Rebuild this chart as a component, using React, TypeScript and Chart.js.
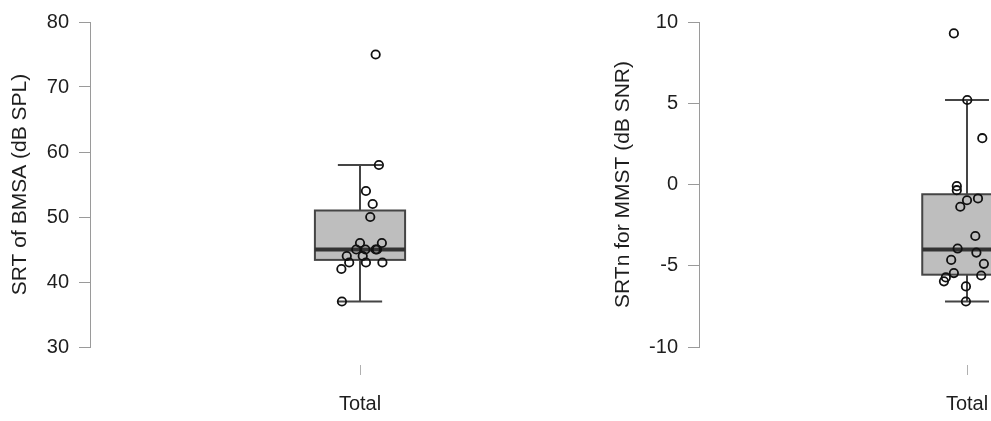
import React, { useEffect, useRef } from 'react';
import { Chart, registerables } from 'chart.js';

Chart.register(...registerables);

// ---------- data ----------
const categories = ['Total'];

// Panel 1: SRT of BMSA (dB SPL)
const bmsaTitle = 'SRT of BMSA (dB SPL)';
const bmsaValues = [75, 58, 54, 52, 50, 46, 46, 45, 45, 45, 45, 44, 44, 43, 43, 43, 42, 37];
const bmsaJitter = [0.058, 0.07, 0.022, 0.047, 0.038, 0.0, 0.081, -0.014, 0.02, 0.058, 0.063, -0.049, 0.01, -0.04, 0.022, 0.083, -0.069, -0.067];
// lower whisker, Q1, median, Q3, upper whisker
const bmsaBox = [37, 43.4, 45, 51, 58];
const bmsaTicks = [30, 40, 50, 60, 70, 80];

// Panel 2: SRTn for MMST (dB SNR)
const mmstTitle = 'SRTn for MMST (dB SNR)';
const mmstValues = [9.3, 5.2, 2.85, -0.1, -0.35, -0.97, -0.86, -1.37, -3.17, -3.94, -4.19, -4.64, -4.88, -5.45, -5.6, -5.72, -5.96, -6.27, -7.2];
const mmstJitter = [-0.049, 0.001, 0.057, -0.038, -0.038, 0.0, 0.041, -0.025, 0.031, -0.035, 0.035, -0.059, 0.063, -0.049, 0.053, -0.079, -0.086, -0.004, -0.004];
const mmstBox = [-7.2, -5.55, -4.0, -0.6, 5.2];
const mmstTicks = [-10, -5, 0, 5, 10];

// ---------- styling ----------
const FONT = "'Liberation Sans', Arial, Helvetica, sans-serif";
const TEXT = '#1e1e1e';
const AXIS = '#9a9a9a';
const BOX_HALF = 0.167;
const CAP_HALF = 0.082;

const boxPlugin = {
  id: 'boxplot',
  beforeDatasetsDraw(chart: any, _args: any, opts: any) {
    const { ctx } = chart;
    const x = chart.scales.x;
    const y = chart.scales.y;
    const [lo, q1, med, q3, hi] = opts.stats as number[];
    const cx = x.getPixelForValue(1);
    const bl = x.getPixelForValue(1 - BOX_HALF);
    const br = x.getPixelForValue(1 + BOX_HALF);
    const cl = x.getPixelForValue(1 - CAP_HALF);
    const cr = x.getPixelForValue(1 + CAP_HALF);
    const yLo = y.getPixelForValue(lo);
    const yQ1 = y.getPixelForValue(q1);
    const yMed = y.getPixelForValue(med);
    const yQ3 = y.getPixelForValue(q3);
    const yHi = y.getPixelForValue(hi);
    ctx.save();
    ctx.strokeStyle = '#454545';
    ctx.lineWidth = 2;
    ctx.lineCap = 'butt';
    // whiskers
    ctx.beginPath();
    ctx.moveTo(cx, yHi);
    ctx.lineTo(cx, yQ3);
    ctx.moveTo(cx, yQ1);
    ctx.lineTo(cx, yLo);
    ctx.moveTo(cl, yHi);
    ctx.lineTo(cr, yHi);
    ctx.moveTo(cl, yLo);
    ctx.lineTo(cr, yLo);
    ctx.stroke();
    // box
    ctx.fillStyle = '#bebebe';
    ctx.fillRect(bl, yQ3, br - bl, yQ1 - yQ3);
    ctx.strokeRect(bl, yQ3, br - bl, yQ1 - yQ3);
    // median
    ctx.strokeStyle = '#333333';
    ctx.lineWidth = 4;
    ctx.beginPath();
    ctx.moveTo(bl, yMed);
    ctx.lineTo(br, yMed);
    ctx.stroke();
    ctx.restore();
  },
};

type PanelProps = {
  title: string;
  values: number[];
  jitter: number[];
  box: number[];
  ticks: number[];
  left: number;
  axisWidth: number;
  width: number;
};

function Panel({ title, values, jitter, box, ticks, left, axisWidth, width }: PanelProps) {
  const ref = useRef<HTMLCanvasElement | null>(null);
  useEffect(() => {
    if (!ref.current) return;
    const chart = new Chart(ref.current, {
      type: 'scatter',
      data: {
        datasets: [
          {
            data: values.map((v, i) => ({ x: 1 + jitter[i], y: v })),
            pointRadius: 4.2,
            pointHoverRadius: 4.2,
            borderWidth: 1.8,
            borderColor: '#111111',
            backgroundColor: 'rgba(0,0,0,0)',
            showLine: false,
          },
        ],
      },
      plugins: [boxPlugin as any],
      options: {
        animation: false,
        responsive: false,
        devicePixelRatio: 1,
        layout: { padding: { top: 21, right: 10, bottom: 0, left: 0 } },
        plugins: {
          legend: { display: false },
          tooltip: { enabled: false },
          boxplot: { stats: box },
        } as any,
        scales: {
          x: {
            type: 'linear',
            min: 0,
            max: 2,
            afterBuildTicks: (s: any) => {
              s.ticks = categories.map((_, i) => ({ value: 1 + i }));
            },
            afterFit: (s: any) => {
              s.height = 74;
            },
            ticks: {
              callback: (_v: any, i: number) => categories[i],
              color: TEXT,
              font: { size: 20, family: FONT },
              padding: 17,
              autoSkip: false,
              maxRotation: 0,
            },
            grid: {
              drawOnChartArea: false,
              drawTicks: true,
              tickLength: 28,
              tickColor: '#b0b0b0',
              tickWidth: 1,
              tickBorderDash: [0, 18, 10, 1000],
            },
            border: { display: false },
          },
          y: {
            type: 'linear',
            min: ticks[0],
            max: ticks[ticks.length - 1],
            afterBuildTicks: (s: any) => {
              s.ticks = ticks.map((t) => ({ value: t }));
            },
            afterFit: (s: any) => {
              s.width = axisWidth;
            },
            ticks: {
              color: TEXT,
              font: { size: 20, family: FONT },
              padding: 10,
              callback: (v: any) => String(v),
            },
            grid: {
              drawOnChartArea: false,
              drawTicks: true,
              tickLength: 11,
              tickColor: AXIS,
              color: AXIS,
            },
            border: { display: true, color: AXIS, width: 1 },
            title: {
              display: true,
              text: title,
              color: TEXT,
              font: { size: 21, family: FONT },
              padding: { top: 8, bottom: 0 },
            },
          },
        },
      } as any,
    });
    return () => chart.destroy();
  }, []);
  return (
    <canvas
      ref={ref}
      width={width}
      height={421}
      style={{ position: 'absolute', left, top: 0, width, height: 421 }}
    />
  );
}

export default function App() {
  useEffect(() => {
    document.body.style.margin = '0';
    document.body.style.overflow = 'hidden';
  }, []);
  return (
    <div
      style={{
        position: 'relative',
        width: 991,
        height: 421,
        overflow: 'hidden',
        background: '#ffffff',
      }}
    >
      <Panel
        title={bmsaTitle}
        values={bmsaValues}
        jitter={bmsaJitter}
        box={bmsaBox}
        ticks={bmsaTicks}
        left={0}
        axisWidth={90}
        width={640}
      />
      <Panel
        title={mmstTitle}
        values={mmstValues}
        jitter={mmstJitter}
        box={mmstBox}
        ticks={mmstTicks}
        left={603}
        axisWidth={96}
        width={642}
      />
    </div>
  );
}
